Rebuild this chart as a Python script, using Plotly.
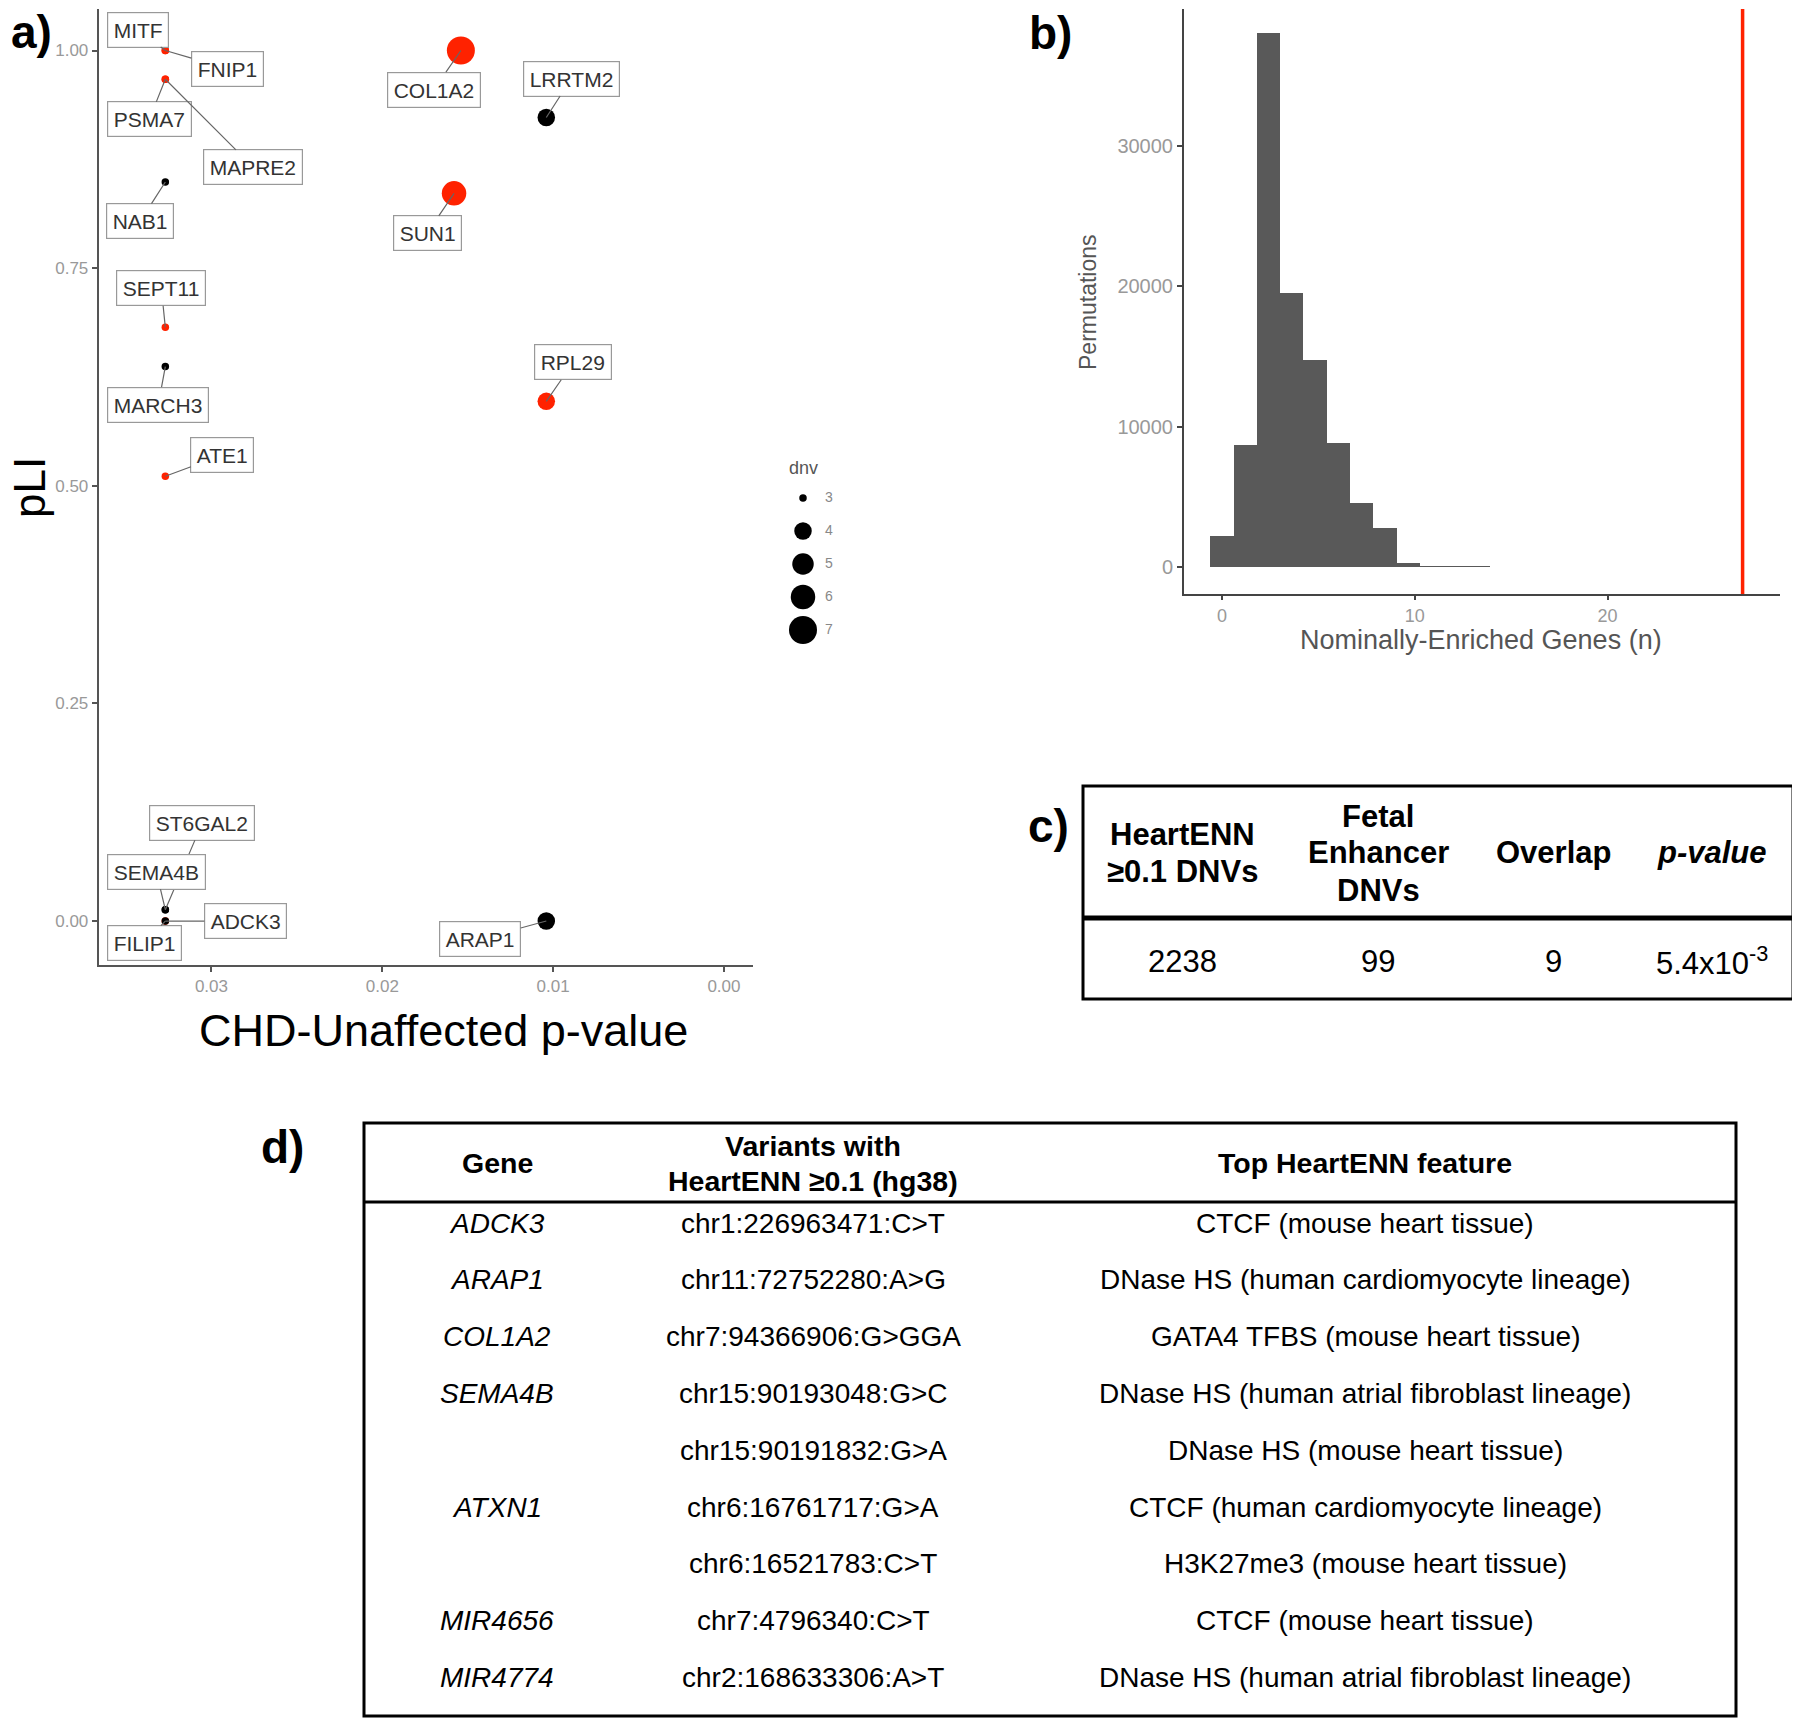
import plotly.graph_objects as go

FONT = "Liberation Sans, Arial, Helvetica, sans-serif"
# the page body has an 8 px margin, so the figure is drawn 8 px in from the top-left
OFF = 8
W, H = 1800 - OFF, 1722 - OFF

# ---------------- Panel a data ----------------
genes = ["MITF", "FNIP1", "PSMA7", "MAPRE2", "NAB1", "SEPT11", "MARCH3", "ATE1",
         "ST6GAL2", "SEMA4B", "ADCK3", "FILIP1", "COL1A2", "SUN1", "LRRTM2", "RPL29", "ARAP1"]
pvals = [0.0327, 0.0327, 0.0327, 0.0327, 0.0327, 0.0327, 0.0327, 0.0327,
         0.0327, 0.0327, 0.0327, 0.0327, 0.0154, 0.0158, 0.0104, 0.0104, 0.0104]
pli = [1.000, 1.000, 0.967, 0.967, 0.849, 0.682, 0.637, 0.511,
       0.013, 0.013, 0.000, 0.000, 1.000, 0.836, 0.923, 0.597, 0.000]
dnv = [3, 3, 3, 3, 3, 3, 3, 3, 3, 3, 3, 3, 7, 6, 4, 4, 4]
highlight = [1, 1, 1, 1, 0, 1, 0, 1, 0, 0, 0, 1, 1, 1, 0, 1, 0]
dnv_levels = [3, 4, 5, 6, 7]
x_ticks_a = [0.03, 0.02, 0.01, 0.00]
y_ticks_a = [0.00, 0.25, 0.50, 0.75, 1.00]

# ---------------- Panel b data ----------------
bin_centers = [0.00, 1.21, 2.41, 3.62, 4.83, 6.03, 7.24, 8.45, 9.66, 10.86, 12.07, 13.28]
perm_counts = [2200, 8700, 38000, 19500, 14750, 8850, 4570, 2770, 270, 60, 30, 5]
observed_n = 27
x_ticks_b = [0, 10, 20]
y_ticks_b = [0, 10000, 20000, 30000]

# ---------------- Panel c data ----------------
c_headers = [["HeartENN", "≥0.1 DNVs"], ["Fetal", "Enhancer", "DNVs"], ["Overlap"], ["<i>p-value</i>"]]
c_values = ["2238", "99", "9", "5.4x10<sup>-3</sup>"]

# ---------------- Panel d data ----------------
d_headers = [["Gene"], ["Variants with", "HeartENN ≥0.1 (hg38)"], ["Top HeartENN feature"]]
d_genes = ["ADCK3", "ARAP1", "COL1A2", "SEMA4B", "", "ATXN1", "", "MIR4656", "MIR4774"]
d_variants = ["chr1:226963471:C>T", "chr11:72752280:A>G", "chr7:94366906:G>GGA",
              "chr15:90193048:G>C", "chr15:90191832:G>A", "chr6:16761717:G>A",
              "chr6:16521783:C>T", "chr7:4796340:C>T", "chr2:168633306:A>T"]
d_features = ["CTCF (mouse heart tissue)", "DNase HS (human cardiomyocyte lineage)",
              "GATA4 TFBS (mouse heart tissue)", "DNase HS (human atrial fibroblast lineage)",
              "DNase HS (mouse heart tissue)", "CTCF (human cardiomyocyte lineage)",
              "H3K27me3 (mouse heart tissue)", "CTCF (mouse heart tissue)",
              "DNase HS (human atrial fibroblast lineage)"]


# ---------------- layout helpers (screen pixel -> paper) ----------------
def fx(p):
    return (p - OFF) / W


def fy(p):
    return 1 - (p - OFF) / H


def ptext(cx, cy, text, size, color="#000000", angle=0, pad=1):
    return dict(x=fx(cx), y=fy(cy), xref="paper", yref="paper", text=text, showarrow=False,
                xanchor="center", yanchor="middle", textangle=angle, borderpad=pad,
                font=dict(family=FONT, size=size, color=color))


RED = "#FF2200"
size_map = {3: 7.5, 4: 17.5, 5: 21.5, 6: 24.5, 7: 28.0}
# label offsets (pixels) from each point to its label box centre
label_offsets = [(-27, -21), (62, 18), (-16, 40), (88, 88), (-25, 39), (-4, -39), (-7, 38), (57, -21),
                 (37, -87), (-9, -38), (80, 0), (-21, 22), (-27, 39), (-27, 40), (25, -39), (27, -39), (-66, 18)]

fig = go.Figure()

# Panel a points
for flag, color in [(1, RED), (0, "#000000")]:
    idx = [i for i, h in enumerate(highlight) if h == flag]
    fig.add_trace(go.Scatter(
        x=[pvals[i] for i in idx], y=[pli[i] for i in idx], mode="markers",
        marker=dict(size=[size_map[dnv[i]] for i in idx], color=color, opacity=1, line=dict(width=0)),
        xaxis="x", yaxis="y", hoverinfo="skip", cliponaxis=False, showlegend=False))

# dnv size legend
fig.add_trace(go.Scatter(
    x=[23] * len(dnv_levels), y=dnv_levels, mode="markers",
    marker=dict(size=[size_map[d] for d in dnv_levels], color="#000000", opacity=1, line=dict(width=0)),
    xaxis="x3", yaxis="y3", hoverinfo="skip", showlegend=False, cliponaxis=False))
fig.add_trace(go.Scatter(
    x=[49] * len(dnv_levels), y=dnv_levels, mode="text", text=[str(d) for d in dnv_levels],
    textfont=dict(family=FONT, size=14, color="#888888"),
    xaxis="x3", yaxis="y3", hoverinfo="skip", showlegend=False, cliponaxis=False))

# Panel b histogram
fig.add_trace(go.Bar(
    x=bin_centers, y=perm_counts, width=1.207, marker=dict(color="#595959", line=dict(width=0)),
    xaxis="x2", yaxis="y2", hoverinfo="skip", showlegend=False))

annotations = []
shapes = []

# gene labels
for g, x, y, (ax, ay) in zip(genes, pvals, pli, label_offsets):
    annotations.append(dict(
        x=x, y=y, xref="x", yref="y", text=g, showarrow=True, ax=ax, ay=ay,
        xanchor="center", yanchor="middle",
        arrowhead=0, arrowwidth=1.2, arrowcolor="#666666", standoff=0,
        font=dict(family=FONT, size=21, color="#333333"),
        bgcolor="#FFFFFF", bordercolor="#999999", borderwidth=1.2, borderpad=5.5))

# axis titles / panel labels
annotations += [
    ptext(30, 488, "pLI", 44, angle=-90, pad=0),
    ptext(443, 1030, "CHD-Unaffected p-value", 45),
    ptext(1088, 302, "Permutations", 23, "#555555", angle=-90),
    ptext(1481, 640, "Nominally-Enriched Genes (n)", 27, "#555555"),
    ptext(803, 468, "dnv", 18, "#555555"),
]
for lab, cx, cy in [("a)", 31, 32), ("b)", 1050, 33), ("c)", 1048, 826), ("d)", 282, 1147)]:
    annotations.append(ptext(cx, cy, "<b>" + lab + "</b>", 46, pad=0))

# red observed line
shapes.append(dict(type="line", xref="x2", yref="y2 domain", x0=observed_n, x1=observed_n, y0=0, y1=1,
                   line=dict(color=RED, width=3.5)))

# ---------------- Panel c table ----------------
shapes.append(dict(type="rect", xref="paper", yref="paper", x0=fx(1083), x1=fx(1793), y0=fy(999), y1=fy(786),
                   line=dict(color="#000000", width=3)))
shapes.append(dict(type="line", xref="paper", yref="paper", x0=fx(1083), x1=fx(1793), y0=fy(918), y1=fy(918),
                   line=dict(color="#000000", width=5)))
c_cols = [1182, 1378, 1553, 1712]
line_gap_c = 37
for lines, cx in zip(c_headers, c_cols):
    n = len(lines)
    for k, t in enumerate(lines):
        cy = 853 + (k - (n - 1) / 2) * line_gap_c
        annotations.append(ptext(cx, cy, "<b>" + t + "</b>", 31))
for t, cx in zip(c_values, c_cols):
    annotations.append(ptext(cx, 961, t, 31))

# ---------------- Panel d table ----------------
shapes.append(dict(type="rect", xref="paper", yref="paper", x0=fx(364), x1=fx(1736), y0=fy(1716), y1=fy(1123),
                   line=dict(color="#000000", width=3)))
shapes.append(dict(type="line", xref="paper", yref="paper", x0=fx(364), x1=fx(1736), y0=fy(1202), y1=fy(1202),
                   line=dict(color="#000000", width=3)))
d_cols = [497, 813, 1365]
for lines, cx in zip(d_headers, d_cols):
    n = len(lines)
    for k, t in enumerate(lines):
        cy = 1163 + (k - (n - 1) / 2) * 35
        annotations.append(ptext(cx, cy, "<b>" + t + "</b>", 28.5))
row_y0, row_gap = 1223, 56.8
for r, (g, v, f) in enumerate(zip(d_genes, d_variants, d_features)):
    cy = row_y0 + r * row_gap
    if g:
        annotations.append(ptext(d_cols[0], cy, "<i>" + g + "</i>", 28))
    annotations.append(ptext(d_cols[1], cy, v, 28))
    annotations.append(ptext(d_cols[2], cy, f, 28))

axis_common = dict(showgrid=False, zeroline=False, showline=True, linewidth=2, ticks="outside",
                   tickwidth=1.5)

fig.update_layout(
    width=W, height=H, margin=dict(l=0, r=0, t=0, b=0),
    paper_bgcolor="#FFFFFF", plot_bgcolor="#FFFFFF", showlegend=False,
    font=dict(family=FONT),
    xaxis=dict(domain=[fx(98.7), fx(753)], anchor="y", range=[0.0366, -0.0017], ticklen=5,
               tickvals=x_ticks_a, tickformat=".2f", linecolor="#555555", tickcolor="#555555",
               tickfont=dict(family=FONT, size=17, color="#999999"), **axis_common),
    yaxis=dict(domain=[fy(965), fy(9)], anchor="x", range=[-0.0505, 1.0477], ticklen=5,
               tickvals=y_ticks_a, tickformat=".2f", linecolor="#555555", tickcolor="#555555",
               tickfont=dict(family=FONT, size=17, color="#999999"), **axis_common),
    xaxis2=dict(domain=[fx(1184), fx(1780)], anchor="y2", range=[-1.97, 28.94], ticklen=4,
                tickvals=x_ticks_b, linecolor="#444444", tickcolor="#444444",
                tickfont=dict(family=FONT, size=18, color="#999999"), **axis_common),
    yaxis2=dict(domain=[fy(594), fy(9)], anchor="x2", range=[-1922, 39720], ticklen=5,
                tickvals=y_ticks_b, tickformat="d", linecolor="#444444", tickcolor="#444444",
                tickfont=dict(family=FONT, size=20, color="#999999"), **axis_common),
    xaxis3=dict(domain=[fx(780), fx(860)], anchor="y3", range=[0, 80], visible=False),
    yaxis3=dict(domain=[fy(663), fy(465)], anchor="x3", range=[8, 2], visible=False),
    bargap=0,
    annotations=annotations,
    shapes=shapes,
)

fig.write_html("out.html")
